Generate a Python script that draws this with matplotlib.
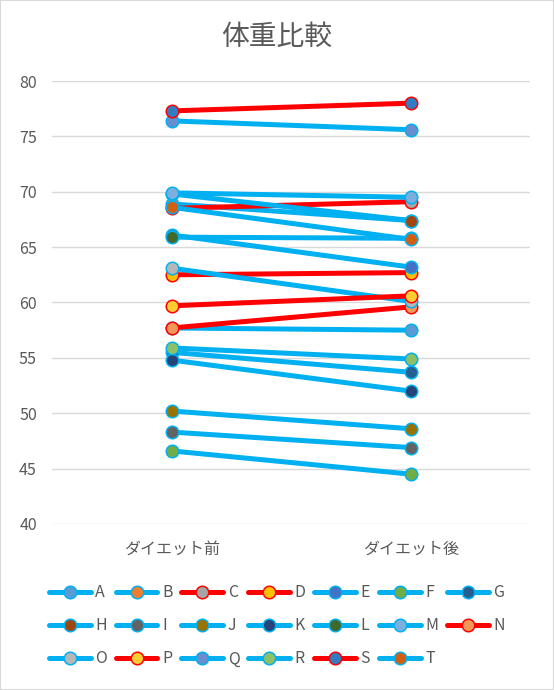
import matplotlib
matplotlib.use("Agg")
import matplotlib.pyplot as plt
from matplotlib.patches import Rectangle

plt.rcParams['font.family'] = ['Noto Sans CJK JP', 'DejaVu Sans']

categories = ['ダイエット前', 'ダイエット後']
names = ['A', 'B', 'C', 'D', 'E', 'F', 'G', 'H', 'I', 'J',
         'K', 'L', 'M', 'N', 'O', 'P', 'Q', 'R', 'S', 'T']
before = [57.7, 68.9, 68.5, 62.5, 66.1, 46.6, 55.5, 69.8, 48.3, 50.2,
          54.8, 65.9, 69.9, 57.7, 63.1, 59.7, 76.4, 55.9, 77.3, 68.6]
after = [57.5, 67.4, 69.1, 62.7, 63.2, 44.5, 53.7, 67.4, 46.9, 48.6,
         52.0, 65.8, 69.5, 59.6, 60.1, 60.6, 75.6, 54.9, 78.0, 65.7]
marker_fill = ['#5B9BD5', '#ED7D31', '#A5A5A5', '#FFC000', '#4472C4', '#70AD47',
               '#255E91', '#9E480E', '#636363', '#997300', '#264478', '#43682B',
               '#7CAFDD', '#F1975A', '#B7B7B7', '#FFCD33', '#698ED0', '#8CC168',
               '#327DC2', '#D26012']
red_series = ['C', 'D', 'N', 'P', 'S']

BLUE = '#00B0F0'
RED = '#FF0000'
TEXT = '#595959'

fig = plt.figure(figsize=(5.54, 6.90), dpi=100)
ax = fig.add_axes([0.094, 0.2406, 0.863, 0.642])

handles = []
for name, b, a, fc in zip(names, before, after, marker_fill):
    col = RED if name in red_series else BLUE
    h, = ax.plot([0, 1], [b, a], color=col, lw=3.6, marker='o', ms=9,
                 mfc=fc, mec=col, mew=1.1, label=name, solid_capstyle='round')
    handles.append(h)

ax.set_xlim(-0.5, 1.5)
ax.set_ylim(40, 80)
ax.set_yticks(range(40, 81, 5))
ax.set_xticks([0, 1])
ax.set_xticklabels(categories)
ax.grid(axis='y', color='#D9D9D9', lw=1)
ax.set_axisbelow(True)
for s in ax.spines.values():
    s.set_visible(False)
ax.tick_params(length=0, colors=TEXT, labelsize=11.5)
ax.tick_params(axis='x', pad=12)
ax.tick_params(axis='y', pad=11)

fig.text(0.5, 0.946, '体重比較', ha='center', va='center', fontsize=20, color=TEXT)

# legend goes row by row like the original, matplotlib fills by column
ncol = 7
order = []
for j in range(ncol):
    for r in range(3):
        k = r * ncol + j
        if k < len(handles):
            order.append(k)
fig.legend([handles[k] for k in order], [names[k] for k in order],
           ncol=ncol, loc='center', bbox_to_anchor=(0.5, 0.093),
           frameon=False, fontsize=11.5, labelcolor=TEXT,
           handlelength=2.6, handletextpad=0.3, columnspacing=0.55,
           labelspacing=1.0, borderpad=0)

fig.patches.append(Rectangle((0, 0), 1, 1, transform=fig.transFigure,
                             fill=False, edgecolor='#D9D9D9', lw=1.5))

fig.savefig('out.png', dpi=100)
